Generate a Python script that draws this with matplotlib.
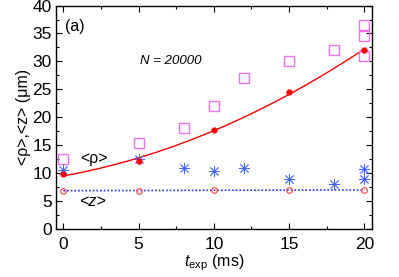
import numpy as np
import matplotlib
matplotlib.use("Agg")
import matplotlib.pyplot as plt
from matplotlib.ticker import MultipleLocator

plt.rcParams['font.family'] = ['Liberation Sans', 'DejaVu Sans']
plt.rcParams['mathtext.fontset'] = 'custom'
plt.rcParams['mathtext.it'] = 'Liberation Sans:italic'
plt.rcParams['mathtext.rm'] = 'Liberation Sans'

# individual shots, <rho>
t_sq = [0, 5, 8, 10, 12, 15, 18, 20, 20, 20]
rho_sq = [12.5, 15.4, 18.0, 22.1, 27.0, 30.0, 32.0, 36.5, 34.6, 31.0]

# individual shots, <z>
t_st = [0, 5, 8, 10, 12, 15, 18, 20, 20]
z_st = [10.6, 12.6, 10.9, 10.4, 11.0, 8.9, 8.0, 10.7, 9.0]

# simulation, mean values
t_sim = [0, 5, 10, 15, 20]
rho_sim = [9.8, 12.1, 17.8, 24.5, 32.0]
z_sim = [6.85, 6.85, 7.05, 7.0, 6.95]

fig = plt.figure(figsize=(3.99, 2.77), dpi=100)
ax = fig.add_axes([0.140, 0.173, 0.792, 0.807])

# smooth fit through the simulated <rho>
p = np.polyfit(t_sim, rho_sim, 2)
tt = np.linspace(0, 20, 200)
ax.plot(tt, np.polyval(p, tt), color='#ff0000', lw=1.0, zorder=2)

# linear fit for <z>
m, c = np.polyfit(t_sim, z_sim, 1)
ax.plot(tt, m * tt + c, color='#2233ff', lw=1.2, ls=(0, (1, 1.2)), zorder=2)

ax.plot(t_sq, rho_sq, ls='none', marker='s', ms=7.5, mfc='none',
        mec='#f070f0', mew=1.0, zorder=3)
ax.plot(t_st, z_st, ls='none', marker=(8, 2, 0), ms=8, color='#4466ff',
        mew=0.6, zorder=3)
ax.plot(t_sim, rho_sim, ls='none', marker='o', ms=3.5, color='#ff0000', zorder=4)
ax.plot(t_sim, z_sim, ls='none', marker='o', ms=4, mfc='none',
        mec='#ff5050', mew=0.9, zorder=4)

ax.text(1.1, 12.6, r'<ρ>', fontsize=11.5, va='center')
ax.text(1.1, 4.9, r'<z>', fontsize=11.5, va='center', style='italic')
ax.text(0.1, 36.3, '(a)', fontsize=11.5, va='center')
ax.text(5.1, 30.1, 'N = 20000', fontsize=9.5, va='center', style='italic')

ax.set_xlim(-0.5, 20.5)
ax.set_ylim(0, 40)
ax.xaxis.set_major_locator(MultipleLocator(5))
ax.xaxis.set_minor_locator(MultipleLocator(2.5))
ax.yaxis.set_major_locator(MultipleLocator(5))
ax.yaxis.set_minor_locator(MultipleLocator(2.5))
ax.tick_params(which='both', direction='in', top=True, right=True,
               labelsize=12.5, width=0.8)
ax.tick_params(which='major', length=4)
ax.tick_params(which='minor', length=2.5)
ax.tick_params(axis='x', pad=6)
ax.tick_params(axis='y', pad=3)
for s in ax.spines.values():
    s.set_linewidth(1.0)

ax.set_xlabel(r'$t_{\mathrm{exp}}$ (ms)', fontsize=11.5, labelpad=0)
ax.set_ylabel('<ρ>,<z> (μm)', fontsize=11.5, labelpad=1)

fig.savefig('out.png', dpi=100)
